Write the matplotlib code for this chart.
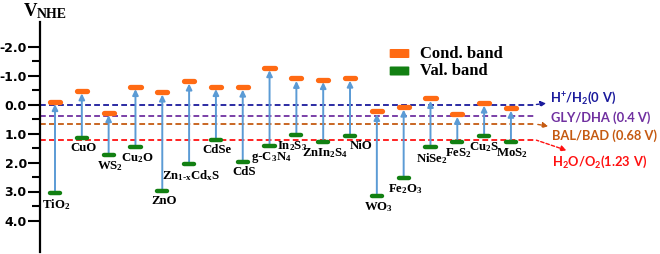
import matplotlib
matplotlib.use('Agg')
import matplotlib.pyplot as plt
from matplotlib.patches import FancyBboxPatch
import numpy as np

# materiales y bordes de banda (V vs NHE)
materiales = [r'$\mathregular{TiO_2}$', 'CuO', r'$\mathregular{WS_2}$', r'$\mathregular{Cu_2O}$', 'ZnO',
              r'$\mathregular{Zn_{1\text{-}x}Cd_xS}$', 'CdSe', 'CdS', r'$\mathregular{g\text{-}C_3N_4}$',
              r'$\mathregular{In_2S_3}$', r'$\mathregular{ZnIn_2S_4}$', 'NiO', r'$\mathregular{WO_3}$',
              r'$\mathregular{Fe_2O_3}$', r'$\mathregular{NiSe_2}$', r'$\mathregular{FeS_2}$',
              r'$\mathregular{Cu_2S}$', r'$\mathregular{MoS_2}$']
banda_cond = [-0.10, -0.47, 0.28, -0.62, -0.43, -0.81, -0.62, -0.60, -1.27,
              -0.90, -0.86, -0.91, 0.24, 0.09, -0.21, 0.34, -0.05, 0.13]
banda_val = [3.04, 1.14, 1.73, 1.45, 2.99, 2.04, 1.23, 1.99, 1.44,
             1.05, 1.31, 1.08, 3.14, 2.54, 1.46, 1.31, 1.10, 1.31]

# potenciales redox de referencia
redox_nombres = [r'$\mathregular{H^{+}/H_2(0\ V)}$', 'GLY/DHA (0.4 V)', 'BAL/BAD (0.68 V)',
                 r'$\mathregular{H_2O/O_2(1.23\ V)}$']
redox_valores = [0.0, 0.4, 0.68, 1.23]
redox_colores = ['#1a1a9c', '#7030a0', '#c55a11', '#ff1010']

yticks = [-2, -1, 0, 1, 2, 3, 4]
yticks_menores = [-1.5, -0.5, 0.5, 1.5, 2.5, 3.5]

naranja = '#ff6a13'
verde = '#128012'
azul = '#5b9bd5'

plt.rcParams['axes.unicode_minus'] = False

fig = plt.figure(figsize=(6.6, 2.54), dpi=100)
ax = fig.add_axes([40 / 660, 2 / 254, 620 / 660, 230 / 254])

n = len(materiales)
x = np.arange(n)
paso = 26.82  # px por categoria
ax.set_xlim(-15 / paso, (660 - 55) / paso)
ax.set_ylim((252 - 104.5) / 29, (22 - 104.5) / 29)

# lineas de potencial redox
x_fin = n - 1 + 0.95
offsets = [(10, 4.5), (10.5, -1), (11.5, -8), (11.5, -15.5)]
for nombre, valor, color, off in zip(redox_nombres, redox_valores, redox_colores, offsets):
    ax.hlines(valor, ax.get_xlim()[0], x_fin, colors=color, linestyles=(0, (3.2, 1.8)), lw=1.3)
    flecha = None
    if valor != 0.4:
        flecha = dict(arrowstyle='<|-,head_length=0.35,head_width=0.18', color=color, lw=1.0,
                      linestyle=(0, (2.5, 1.5)), shrinkA=1, shrinkB=0)
    ax.annotate(nombre, xy=(x_fin, valor), xytext=off, textcoords='offset points',
                ha='left', va='center', color=color, fontsize=9.3, fontweight='bold',
                family='Lato', arrowprops=flecha)

# flechas de excitacion
for xi, cb, vb in zip(x, banda_cond, banda_val):
    ax.annotate('', xy=(xi, cb), xytext=(xi, vb),
                arrowprops=dict(arrowstyle='-|>,head_length=0.35,head_width=0.17', color=azul,
                                lw=1.4, shrinkA=1.5, shrinkB=1.8))

ax.hlines(banda_cond, x - 0.19, x + 0.19, colors=naranja, lw=3.8, capstyle='round', zorder=3)
ax.hlines(banda_val, x - 0.19, x + 0.19, colors=verde, lw=3.2, capstyle='round', zorder=3)

# pequeños desplazamientos horizontales de etiquetas apretadas
desplaza = {9: -4, 10: 0, 11: 7, 16: -1}
for i, (xi, vb, nombre) in enumerate(zip(x, banda_val, materiales)):
    ax.annotate(nombre, xy=(xi, vb), xytext=(1 + desplaza.get(i, 0), -3), textcoords='offset points',
                ha='center', va='top', fontsize=9.2, fontweight='bold', family='Liberation Serif')

# ejes
for lado in ['top', 'right', 'bottom']:
    ax.spines[lado].set_visible(False)
ax.spines['left'].set_linewidth(1.6)
ax.set_xticks([])
ax.set_yticks(yticks)
ax.set_yticklabels([f'{v:.1f}' for v in yticks], fontsize=9, fontweight='bold', family='DejaVu Sans')
ax.set_yticks(yticks_menores, minor=True)
ax.tick_params(axis='y', which='major', length=8.5, width=1.5, pad=1)
ax.tick_params(axis='y', which='minor', length=5.5, width=1.5)

fig.text(24 / 660, 1 - 15.5 / 254, 'V', fontsize=13.5, fontweight='bold', family='Liberation Serif',
         ha='left', va='baseline')
fig.text(37 / 660, 1 - 18.5 / 254, 'NHE', fontsize=10, fontweight='bold', family='Liberation Serif',
         ha='left', va='baseline')

# leyenda
for y_px, color, texto in [(53.5, naranja, 'Cond. band'), (71, verde, 'Val. band')]:
    caja = FancyBboxPatch((391 / 660, 1 - (y_px + 4) / 254), 17 / 660, 8 / 254,
                          boxstyle='round,pad=0.002', transform=fig.transFigure,
                          facecolor=color, edgecolor='none')
    fig.patches.append(caja)
    fig.text(420 / 660, 1 - y_px / 254, texto, fontsize=12, fontweight='bold',
             family='Liberation Serif', ha='left', va='center')

fig.savefig('out.png', dpi=100)
